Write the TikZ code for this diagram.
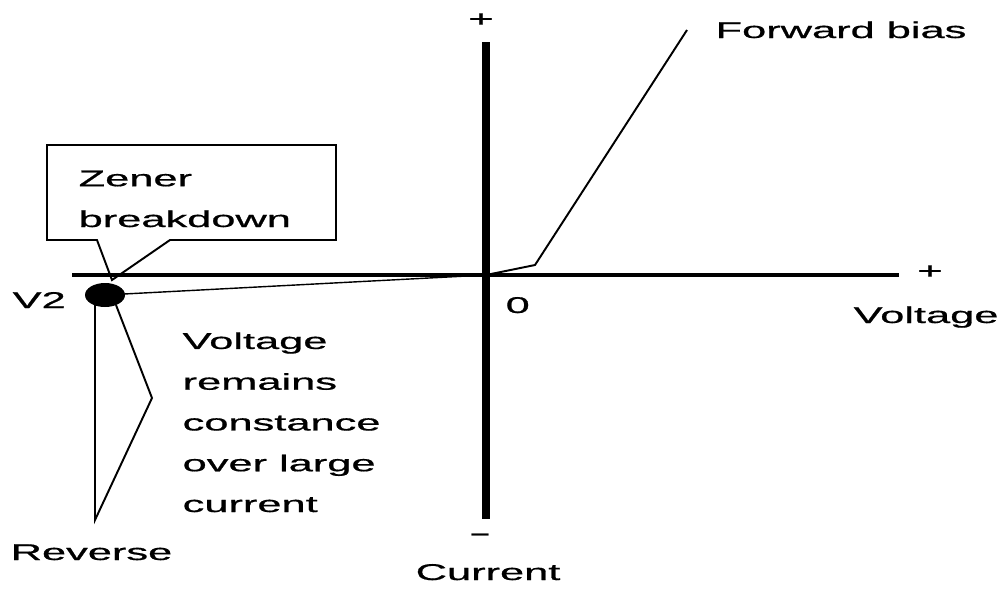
\documentclass[tikz,border=0pt]{standalone}
\usepackage{fontspec}
\setmainfont{Liberation Sans}[FakeBold=0.6]
\usetikzlibrary{math,calc}

\begin{document}
\begin{tikzpicture}[x=0.02cm,y=-0.02cm]
\tikzset{lbl/.style={inner sep=0pt, xscale=1.9, align=left, font=\fontsize{13}{23.2}\selectfont}}
\tikzmath{
\ox=486;
\oy=275;
\xmin=72;
\xmax=899;
\ytop=42;
\ybot=519;
}
\useasboundingbox (0,0) rectangle (1000,589);

\coordinate (O) at (\ox,\oy);
\coordinate (xl) at (\xmin,\oy);
\coordinate (xr) at (\xmax,\oy);
\coordinate (yt) at (\ox,\ytop);
\coordinate (yb) at (\ox,\ybot);
\coordinate (knee) at (535,265);
\coordinate (fw) at (687,30);
\coordinate (V2) at (105,295);
\coordinate (tip) at (112,280);
\coordinate (rv) at (95,520);
\coordinate (rvk) at (152,398);

% callout box
\draw[line width=1.1pt, line join=miter] (97,240) -- (tip) -- (170,240) -- (336,240) -- (336,145) -- (47,145) -- (47,240) -- cycle;
\path (78,227) node[lbl, anchor=base west] (zener) {Zener\\breakdown};

% axes
\draw[line width=2.8pt] (xl) -- (xr);
\draw[line width=5pt] (yt) -- (yb);

% curves
\draw[line width=1.1pt] (O) -- (knee) -- (fw);
\draw[line width=0.8pt] (O) -- (V2);
\fill (V2) ellipse (20 and 12);

% reverse marks
\draw[line width=1.1pt] ($(V2)+(-10,8)$) -- (rv) -- (rvk) -- ($(V2)+(11,10)$);

\path (841,38) node[lbl, anchor=base] (fwd) {Forward bias};
\path (853,323) node[lbl, anchor=base west] (volt) {Voltage};
\path (930,272) node[lbl] (xplus) {+};
\path (481,20) node[lbl] (yplus) {+};
\path (480,537) node[lbl, xscale=0.7] (yminus) {–};
\path (415,580) node[lbl, anchor=base west] (curr) {Current};
\path (505,313) node[lbl, anchor=base west] (zero) {0};
\path (12,308) node[lbl, anchor=base west] (vtwo) {V2};
\path (10,560) node[lbl, anchor=base west] (rev) {Reverse};
\path (182,512) node[lbl, anchor=base west] (note) {Voltage\\remains\\constance\\over large\\current};
\end{tikzpicture}
\end{document}
